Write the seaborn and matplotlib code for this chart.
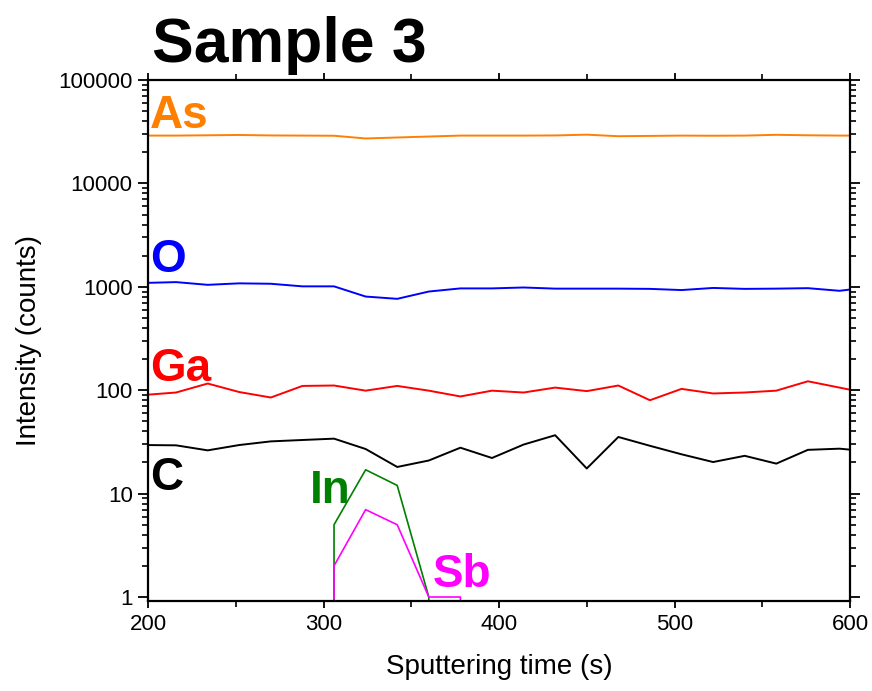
import matplotlib
matplotlib.use("Agg")
import matplotlib.pyplot as plt
import matplotlib.ticker as mticker
import numpy as np
import pandas as pd
import seaborn as sns

# ---- data ----
times = [198, 216, 234, 252, 270, 288, 306, 324, 342, 360, 378, 396,
         414, 432, 450, 468, 486, 504, 522, 540, 558, 576, 594, 612]
as_counts = [29000, 29000, 29200, 29400, 29100, 29000, 28900, 27200, 27800, 28400, 29000, 29000,
             29000, 29100, 29600, 28600, 28800, 29000, 28900, 29000, 29500, 29200, 29000, 29000]
o_counts = [1090, 1110, 1045, 1080, 1070, 1010, 1010, 805, 765, 900, 965, 965,
            985, 960, 960, 960, 955, 930, 975, 955, 960, 970, 915, 995]
ga_counts = [90, 95, 116, 96, 85, 110, 111, 99, 110, 99, 87, 99,
             95, 106, 98, 111, 80, 103, 93, 95, 99, 122, 106, 92]
c_counts = [29.5, 29.3, 26.2, 29.5, 32, 33, 34, 27, 18.1, 20.9, 27.8, 22.1,
            29.8, 36.7, 17.5, 35.3, 29, 24, 20.2, 23.2, 19.5, 26.5, 27.2, 25.5]
in_counts = [0, 0, 0, 0, 0, 0, 5, 17, 12, 1, 0, 0,
             0, 0, 0, 0, 0, 0, 0, 0, 0, 0, 0, 0]
sb_counts = [0, 0, 0, 0, 0, 0, 2, 7, 5, 1, 1, 0,
             0, 0, 0, 0, 0, 0, 0, 0, 0, 0, 0, 0]

elements = ["As", "O", "Ga", "C", "In", "Sb"]
series = [as_counts, o_counts, ga_counts, c_counts, in_counts, sb_counts]
colors = ["#FF8000", "#0000FF", "#FF0000", "#000000", "#008000", "#FF00FF"]
widths = [1.4, 1.4, 1.4, 1.4, 1.2, 1.2]

# label anchors (time, counts) for element names
label_pos = {"As": (201.3, 34600), "O": (201.3, 1400), "Ga": (201.3, 124),
             "C": (201.3, 10.9), "In": (292.0, 8.2), "Sb": (362.0, 1.26)}

x_ticks = [200, 300, 400, 500, 600]
y_ticks = [1, 10, 100, 1000, 10000, 100000]
y_ticklabels = ["1", "10", "100", "1000", "10000", "100000"]

df = pd.DataFrame({
    "time": times * len(elements),
    "counts": [v for s in series for v in s],
    "element": [e for e in elements for _ in times],
})

sns.set_theme(style="ticks")
plt.rcParams["font.family"] = ["Liberation Sans", "DejaVu Sans"]
plt.rcParams["text.color"] = "black"
plt.rcParams["axes.labelcolor"] = "black"

fig = plt.figure(figsize=(8.72, 6.91), dpi=100)
ax = fig.add_axes([148 / 872, 1 - 601 / 691, (850 - 148) / 872, (601 - 80) / 691])

for el, col, lw in zip(elements, colors, widths):
    sns.lineplot(data=df[df["element"] == el], x="time", y="counts",
                 color=col, linewidth=lw, estimator=None, sort=False, ax=ax,
                 legend=False)

ax.set_yscale("log", nonpositive="clip")
ax.set_xlim(200, 600)
ax.set_ylim(0.915, 100000)

ax.set_xticks(x_ticks)
ax.xaxis.set_minor_locator(mticker.MultipleLocator(50))
ax.set_yticks(y_ticks)
ax.set_yticklabels(y_ticklabels)
ax.yaxis.set_minor_locator(mticker.LogLocator(base=10, subs=np.arange(2, 10), numticks=20))
ax.yaxis.set_minor_formatter(mticker.NullFormatter())

ax.tick_params(axis="both", which="major", direction="out", length=7, width=1.3,
               labelsize=16, colors="black", pad=4)
ax.tick_params(axis="both", which="minor", direction="out", length=4, width=1.2,
               colors="black")
ax.tick_params(axis="x", which="major", top=True, labeltop=False, length=5)
ax.tick_params(axis="x", which="minor", top=True)
ax.tick_params(axis="y", which="both", right=True, labelright=False)

for sp in ax.spines.values():
    sp.set_visible(True)
    sp.set_linewidth(1.6)
    sp.set_color("black")

ax.set_xlabel("Sputtering time (s)", fontsize=20, labelpad=14, color="black")
ax.set_ylabel("Intensity (counts)", fontsize=20, labelpad=12, color="black")

for el, col in zip(elements, colors):
    tx, ty = label_pos[el]
    ax.text(tx, ty, el, color=col, fontsize=33, fontweight="bold",
            ha="left", va="baseline")

fig.text(152 / 872, 1 - 62 / 691, "Sample 3", fontsize=45, fontweight="bold",
         ha="left", va="baseline", color="black")

fig.savefig("out.png", dpi=100)
